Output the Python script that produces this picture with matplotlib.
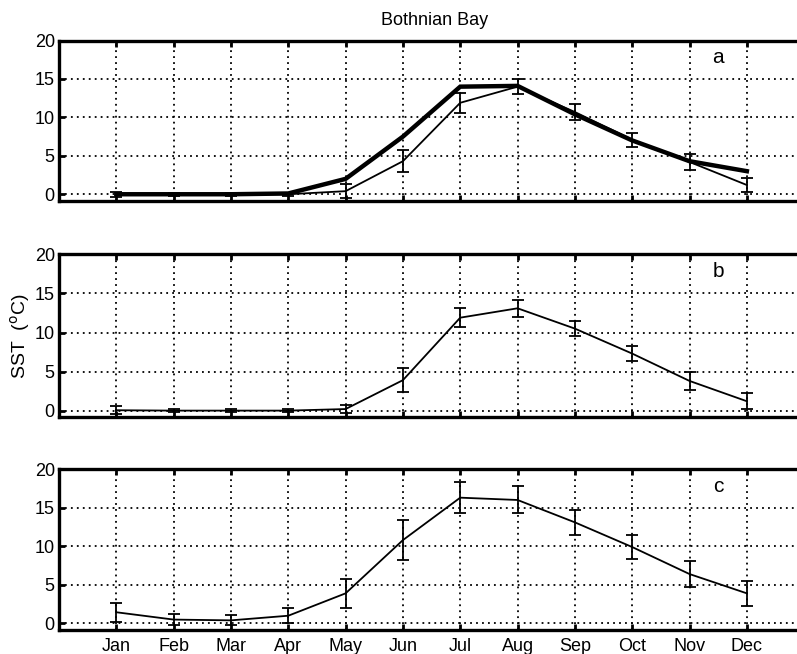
import numpy as np
import matplotlib
matplotlib.use("Agg")
import matplotlib.pyplot as plt

plt.rcParams["font.family"] = ["Liberation Sans", "DejaVu Sans"]

months = ["Jan", "Feb", "Mar", "Apr", "May", "Jun", "Jul", "Aug", "Sep", "Oct", "Nov", "Dec"]

# panel a: thick model line, thin line with error bars
a_model = [0.0, 0.0, 0.0, 0.1, 2.0, 7.5, 14.0, 14.1, 10.4, 7.0, 4.3, 3.0]
a_mean = [0.0, 0.0, 0.0, 0.0, 0.4, 4.3, 11.9, 14.0, 10.7, 7.1, 4.2, 1.2]
a_err = [0.3, 0.2, 0.2, 0.2, 0.9, 1.4, 1.3, 1.0, 1.1, 0.9, 1.0, 0.9]

# panel b
b_mean = [0.05, 0.0, 0.0, 0.0, 0.2, 3.9, 11.9, 13.1, 10.5, 7.3, 3.8, 1.2]
b_err = [0.5, 0.2, 0.2, 0.2, 0.5, 1.5, 1.25, 1.1, 1.0, 1.0, 1.15, 1.0]

# panel c
c_mean = [1.45, 0.5, 0.4, 1.0, 3.9, 10.8, 16.3, 16.0, 13.1, 9.9, 6.4, 3.9]
c_err = [1.2, 0.75, 0.65, 1.0, 1.9, 2.6, 2.05, 1.75, 1.65, 1.6, 1.65, 1.6]

x = np.arange(1, 13)

fig = plt.figure(figsize=(7.97, 6.54), dpi=100)
W = 0.935
positions = [[0.074, 0.693, W, 0.245],
             [0.074, 0.362, W, 0.249],
             [0.074, 0.0367, W, 0.246]]

axes = [fig.add_axes(p) for p in positions]
data = [(a_mean, a_err), (b_mean, b_err), (c_mean, c_err)]
letters = ["a", "b", "c"]

for i, ax in enumerate(axes):
    m, e = data[i]
    if i == 0:
        ax.plot(x, a_model, color="black", lw=3.2, zorder=4, solid_joinstyle="miter")
    ax.errorbar(x, m, yerr=e, color="black", lw=1.3, elinewidth=1.3,
                capsize=4, capthick=1.3, zorder=3)
    ax.set_xlim(0, 13)
    ax.set_ylim(-0.85, 20)
    ax.set_xticks(x)
    ax.set_yticks([0, 5, 10, 15, 20])
    ax.set_yticklabels(["0", "5", "10", "15", "20"])
    if i == 2:
        ax.set_xticklabels(months)
    else:
        ax.set_xticklabels([])
    ax.grid(True, color="black", lw=1.3, linestyle=(0, (1, 2.3)))
    ax.tick_params(direction="in", length=4, width=2, top=True, right=True,
                   labelsize=13, pad=3)
    ax.tick_params(axis="x", pad=6)
    for s in ax.spines.values():
        s.set_linewidth(2.4)
    ax.text(11.5, 17.8, letters[i], fontsize=15, ha="center", va="center")

axes[0].text(0.504, 1.07, "Bothnian Bay", transform=axes[0].transAxes,
             ha="center", va="bottom", fontsize=13)
axes[1].set_ylabel("SST  ($^{\\rm o}$C)", fontsize=14, labelpad=2)

fig.savefig("out.png", dpi=100)
